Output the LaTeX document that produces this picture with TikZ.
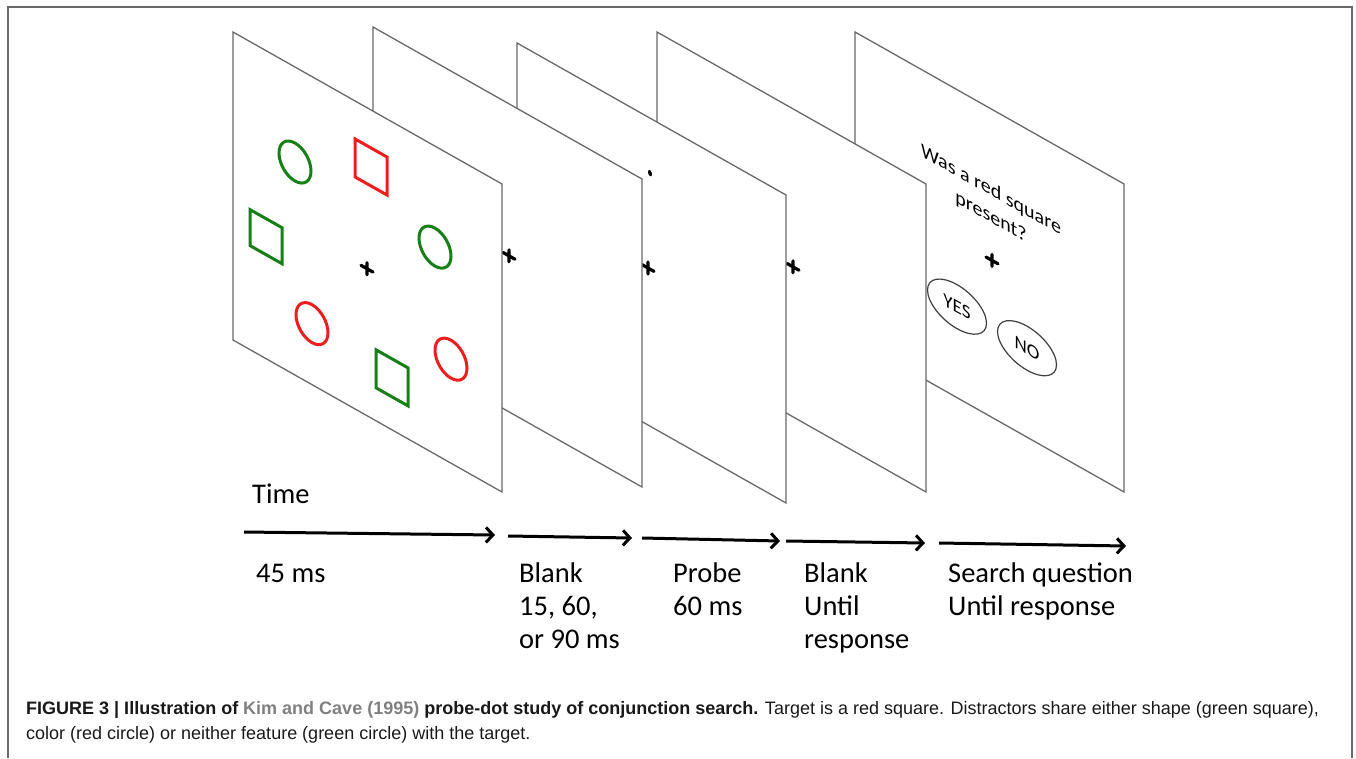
\documentclass[tikz,border=0pt]{standalone}
\usepackage{fontspec}
\usepackage{xcolor}
\setmainfont{Carlito}
\newfontfamily\capfont{Liberation Sans}
\usetikzlibrary{arrows.meta,shapes.geometric}

\definecolor{screengray}{RGB}{105,105,105}
\definecolor{stimgreen}{RGB}{22,128,22}
\definecolor{stimred}{RGB}{238,30,30}
\definecolor{citegray}{RGB}{128,128,128}

\tikzset{
  onscreen/.style={shift={#1}, yslant=-0.565},
  screen/.style={draw=screengray, fill=white, line width=1.3},
  ring/.style={draw=#1, line width=3},
  fixation/.style={line width=3.2, line cap=round},
  answer/.style={ellipse, draw=black!75, line width=1.2, minimum width=59, minimum height=44, inner sep=0, transform shape, font=\fontsize{19}{19}\selectfont},
  timearrow/.style={line width=3, -{Straight Barb[length=7,width=15,line width=3]}},
  steptext/.style={inner sep=0, align=left, font=\fontsize{28.5}{33}\selectfont}
}

\begin{document}
\begin{tikzpicture}[x=1pt, y=-1pt]
\useasboundingbox (0,0) rectangle (1356,758);
\draw[screengray, line width=2] (8,758) -- (8,7) -- (1352,7) -- (1352,758);

% screens, back to front
\begin{scope}[onscreen={(855,32)}]
  \draw[screen] (0,0) -- (269,0) -- (269,308) -- (0,308) -- cycle;
  \node[transform shape, align=center, inner sep=0, font=\fontsize{20}{27}\selectfont] (question) at (136,95) {Was a red square\\present?};
  \draw[fixation] (131,151) -- (143,151) (137,145) -- (137,157);
  \node[answer] (yes) at (102,217) {YES};
  \node[answer] (no) at (172,219) {NO};
\end{scope}
\begin{scope}[onscreen={(657,32)}]
  \draw[screen] (0,0) -- (269,0) -- (269,308) -- (0,308) -- cycle;
  \draw[fixation] (130,158) -- (142,158) (136,152) -- (136,164);
\end{scope}
\begin{scope}[onscreen={(517,43)}]
  \draw[screen] (0,0) -- (269,0) -- (269,308) -- (0,308) -- cycle;
  \fill (133,55) ellipse [x radius=2, y radius=3];
  \draw[fixation] (125,151) -- (137,151) (131,145) -- (131,157);
\end{scope}
\begin{scope}[onscreen={(373,27)}]
  \draw[screen] (0,0) -- (269,0) -- (269,308) -- (0,308) -- cycle;
  \draw[fixation] (130,152) -- (142,152) (136,146) -- (136,158);
\end{scope}
\begin{scope}[onscreen={(233,32)}]
  \draw[screen] (0,0) -- (269,0) -- (269,308) -- (0,308) -- cycle;
  \draw[fixation] (128,161) -- (140,161) (134,155) -- (134,167);
  % distractors and target
  \draw[ring=stimgreen] (62,95) ellipse [x radius=16, y radius=19];
  \draw[ring=stimgreen] (202,101) ellipse [x radius=16, y radius=19];
  \draw[ring=stimred] (79,247) ellipse [x radius=16, y radius=19];
  \draw[ring=stimred] (218,204) ellipse [x radius=16, y radius=19];
  \draw[ring=stimred] (138,57) +(-16,-19) rectangle +(16,19);
  \draw[ring=stimgreen] (33,186) +(-16,-18) rectangle +(16,18);
  \draw[ring=stimgreen] (159,256) +(-16,-19) rectangle +(16,19);
\end{scope}

% time line
\node[steptext, anchor=base west] (time) at (252,503) {Time};
\coordinate (t0) at (244,532);
\coordinate (t1) at (495,535);
\coordinate (t2) at (508,536);
\coordinate (t3) at (632,538);
\coordinate (t4) at (642,538);
\coordinate (t5) at (780,541);
\coordinate (t6) at (786,541);
\coordinate (t7) at (925,543);
\coordinate (t8) at (939,543);
\coordinate (t9) at (1126,546);
\draw[timearrow] (t0) -- (t1);
\draw[timearrow] (t2) -- (t3);
\draw[timearrow] (t4) -- (t5);
\draw[timearrow] (t6) -- (t7);
\draw[timearrow] (t8) -- (t9);

% base anchor sits on the last line
\node[steptext, anchor=base west] (display) at (256,582) {45 ms};
\node[steptext, anchor=base west] (soa) at (519,648) {Blank\\15, 60,\\or 90 ms};
\node[steptext, anchor=base west] (probe) at (673,615) {Probe\\60 ms};
\node[steptext, anchor=base west] (wait) at (804,648) {Blank\\Until\\response};
\node[steptext, anchor=base west] (search) at (948,615) {Search question\\Until response};

\node[anchor=base west, align=left, inner sep=0, text=black!90, font=\capfont\fontsize{18}{25}\selectfont] (caption) at (26,739)
  {\textbf{FIGURE 3 | Illustration of \textcolor{citegray}{Kim and Cave (1995)} probe-dot study of conjunction search.} Target is a red square. Distractors share either shape (green square),\\
   color (red circle) or neither feature (green circle) with the target.};
\end{tikzpicture}
\end{document}
